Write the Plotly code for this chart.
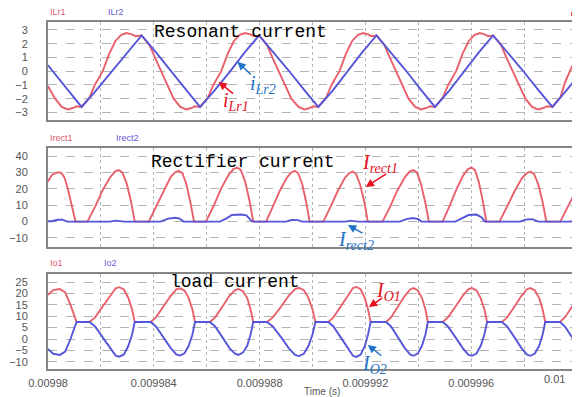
import plotly.graph_objects as go
from plotly.subplots import make_subplots

T0 = 0.00998  # start time (s); time lists below are microseconds after T0

# ---------------- Panel 1: resonant currents ----------------
ILR1_T = [0, 0.27, 0.52, 0.75, 0.94, 1.08, 1.27,
          1.57, 1.77, 2.07, 2.32, 2.55, 2.77, 2.97, 3.17, 3.31, 3.54, 3.84, 4.04, 4.28, 4.52, 4.75, 5.0, 5.23, 5.42, 5.56, 5.75,
          6.05, 6.25, 6.55, 6.8, 7.03, 7.25, 7.45, 7.65, 7.79, 7.98, 8.28, 8.48, 8.72, 8.96, 9.2, 9.47, 9.7, 9.89, 10.03, 10.22,
          10.52, 10.72, 11.02, 11.27, 11.5, 11.72, 11.92, 12.1, 12.23, 12.42, 12.72, 12.92, 13.16, 13.4, 13.63, 13.88, 14.1, 14.29, 14.44, 14.63,
          14.93, 15.13, 15.43, 15.68, 15.91, 16.13, 16.33, 16.51, 16.64, 16.83, 17.13, 17.33, 17.57, 17.81, 18.05, 18.3, 18.53, 18.72, 18.88, 19.07,
          19.37, 19.55, 19.8, 20.0]
ILR1_V = [-1.1, -2.0, -2.6, -2.78, -2.68, -2.55, -2.6,
          -1.9, -1.0, 0.0, 1.3, 2.2, 2.65, 2.78, 2.68, 2.55, 2.6, 1.9, 1.0, 0.0, -1.1, -2.0, -2.6, -2.78, -2.68, -2.55, -2.6,
          -1.9, -1.0, 0.0, 1.3, 2.2, 2.65, 2.78, 2.68, 2.55, 2.6, 1.9, 1.0, 0.0, -1.1, -2.0, -2.6, -2.78, -2.68, -2.55, -2.6,
          -1.9, -1.0, 0.0, 1.3, 2.2, 2.65, 2.78, 2.68, 2.55, 2.6, 1.9, 1.0, 0.0, -1.1, -2.0, -2.6, -2.78, -2.68, -2.55, -2.6,
          -1.9, -1.0, 0.0, 1.3, 2.2, 2.65, 2.78, 2.68, 2.55, 2.6, 1.9, 1.0, 0.0, -1.1, -2.0, -2.6, -2.78, -2.68, -2.55, -2.6,
          -1.9, -0.8, 0.3, 1.0]

ILR2_T = [0, 0.64, 1.27, 1.82, 2.4, 2.97, 3.54, 4.09, 4.65, 5.2, 5.75, 6.3, 6.87, 7.43, 7.98,
          8.54, 9.1, 9.66, 10.22, 10.77, 11.32, 11.87, 12.42, 12.97, 13.53, 14.08, 14.63,
          15.18, 15.73, 16.28, 16.83, 17.39, 17.95, 18.51, 19.07, 19.6, 20.0]
ILR2_V = [0.43, -1.1, -2.6, -1.4, -0.05, 1.35, 2.6, 1.35, 0.05, -1.3, -2.6, -1.4, -0.05, 1.35, 2.6,
          1.35, 0.05, -1.3, -2.6, -1.4, -0.05, 1.35, 2.6, 1.35, 0.05, -1.3, -2.6,
          -1.4, -0.05, 1.35, 2.6, 1.35, 0.05, -1.3, -2.6, -1.4, -0.45]

# ---------------- Panel 2: rectifier currents ----------------
IRECT1_T = [0, 0.15, 0.35, 0.5, 0.62, 0.75, 0.88, 1.04,
            1.49, 1.78, 2.06, 2.35, 2.53, 2.67, 2.81, 2.98, 3.14, 3.28,
            3.81, 4.08, 4.36, 4.63, 4.8, 4.94, 5.08, 5.23, 5.38, 5.52,
            5.97, 6.26, 6.54, 6.83, 7.01, 7.15, 7.29, 7.46, 7.62, 7.76,
            8.25, 8.51, 8.77, 9.04, 9.2, 9.33, 9.46, 9.61, 9.76, 9.89,
            10.41, 10.68, 10.95, 11.22, 11.38, 11.52, 11.65, 11.8, 11.96, 12.09,
            12.65, 12.93, 13.21, 13.49, 13.67, 13.81, 13.95, 14.1, 14.26, 14.4,
            14.92, 15.18, 15.45, 15.71, 15.88, 16.01, 16.14, 16.29, 16.44, 16.57,
            17.07, 17.35, 17.64, 17.92, 18.1, 18.24, 18.38, 18.54, 18.7, 18.84,
            19.37, 19.65, 20.0]
IRECT1_V = [24.5, 28.5, 30, 29.8, 27, 20, 11, 0,
            0, 9, 19, 27, 30.5, 31.5, 30, 23, 12, 0,
            0, 9, 19, 27, 30, 31, 29.5, 23, 12, 0,
            0, 9.5, 20, 28.5, 32, 33, 31.5, 24, 12.5, 0,
            0, 9, 19, 27, 30, 31, 29.5, 23, 12, 0,
            0, 9, 18.5, 26.5, 29.5, 30.5, 29, 22.5, 12, 0,
            0, 9, 19, 27, 30.5, 31.5, 30, 23, 12, 0,
            0, 9.5, 20, 28.5, 32, 33, 31.5, 24, 12.5, 0,
            0, 9, 18.5, 26.5, 29.5, 30.5, 29, 22.5, 12, 0,
            0, 9, 20]

IRECT2_T = [0, 0.15, 0.35, 0.55, 0.72,
            2.35, 2.55, 2.75, 2.9,
            4.25, 4.55, 4.8, 4.98, 5.12,
            6.5, 6.75, 6.95, 7.3, 7.5, 7.7, 7.8,
            9.0, 9.2, 9.45, 9.6,
            11.25, 11.45, 11.7,
            13.3, 13.55, 13.8, 14.0, 14.12,
            15.4, 15.65, 15.9, 16.2, 16.4, 16.5, 16.6,
            17.85, 18.05, 18.3, 18.55,
            19.75, 20.0]
IRECT2_V = [0.2, 0.2, 1.1, 1.2, 0,
            0, 0.6, 0.5, 0,
            0, 1.8, 2.3, 1.8, 0,
            0, 2.0, 4.0, 4.3, 3.8, 0.3, 0,
            0, 1.0, 0.9, 0,
            0, 0.6, 0,
            0, 1.5, 2.2, 1.5, 0,
            0, 2.2, 4.0, 4.3, 2.5, 0.2, 0,
            0, 1.2, 1.5, 0,
            0, 1.0]

# ---------------- Panel 3: load currents ----------------
IO_T = [0, 0.2, 0.45, 0.65, 0.85, 1.08,
        1.57, 1.78, 2.08, 2.34, 2.56, 2.70, 2.87, 3.04, 3.18, 3.28,
        3.88, 4.08, 4.38, 4.64, 4.85, 4.99, 5.16, 5.32, 5.46, 5.56,
        6.12, 6.32, 6.61, 6.86, 7.07, 7.2, 7.37, 7.53, 7.66, 7.76,
        8.28, 8.5, 8.83, 9.1, 9.34, 9.49, 9.67, 9.85, 10.0, 10.11,
        10.6, 10.79, 11.08, 11.32, 11.53, 11.66, 11.82, 11.98, 12.1, 12.2,
        12.78, 12.97, 13.25, 13.49, 13.7, 13.82, 13.98, 14.14, 14.27, 14.36,
        14.92, 15.12, 15.42, 15.68, 15.89, 16.03, 16.2, 16.36, 16.5, 16.6,
        17.16, 17.36, 17.65, 17.9, 18.11, 18.24, 18.41, 18.57, 18.7, 18.8,
        19.36, 19.56, 19.8, 20.0]
IO1_V = [19.4, 21.5, 22, 20.5, 15, 7.5,
         7.5, 9.5, 14.5, 19, 22.3, 22.8, 21.8, 18, 13, 7.5,
         7.5, 9.5, 14.5, 19, 21.8, 22.3, 21.3, 18, 13, 7.5,
         7.5, 9.5, 14.5, 19, 21.5, 22.0, 21.0, 18, 13, 7.5,
         7.5, 9.5, 14.5, 19, 22.0, 22.5, 21.5, 18, 13, 7.5,
         7.5, 9.5, 14.5, 19, 22.4, 22.9, 21.9, 18, 13, 7.5,
         7.5, 9.5, 14.5, 19, 21.9, 22.4, 21.4, 18, 13, 7.5,
         7.5, 9.5, 14.5, 19, 21.9, 22.4, 21.4, 18, 13, 7.5,
         7.5, 9.5, 14.5, 19, 21.9, 22.4, 21.4, 18, 13, 7.5,
         7.5, 9.8, 14, 17.5]
IO2_V = [-4.4, -6.5, -7, -5.5, 0, 7.5,
         7.5, 5.5, 0.5, -4, -7.3, -7.8, -6.8, -3, 2, 7.5,
         7.5, 5.5, 0.5, -4, -6.8, -7.3, -6.3, -3, 2, 7.5,
         7.5, 5.5, 0.5, -4, -6.5, -7.0, -6.0, -3, 2, 7.5,
         7.5, 5.5, 0.5, -4, -7.0, -7.5, -6.5, -3, 2, 7.5,
         7.5, 5.5, 0.5, -4, -7.4, -7.9, -6.9, -3, 2, 7.5,
         7.5, 5.5, 0.5, -4, -6.9, -7.4, -6.4, -3, 2, 7.5,
         7.5, 5.5, 0.5, -4, -6.9, -7.4, -6.4, -3, 2, 7.5,
         7.5, 5.5, 0.5, -4, -6.9, -7.4, -6.4, -3, 2, 7.5,
         7.5, 5.2, 1, -2.5]

X_TICK_US = [0, 4, 8, 12, 16]
X_TICK_LABELS = ["0.00998", "0.009984", "0.009988", "0.009992", "0.009996"]
X_GRID_US = [2, 6, 10, 14, 18]
Y1_TICKS = [-3, -2, -1, 0, 1, 2, 3]
Y2_TICKS = [-10, 0, 10, 20, 30, 40]
Y3_TICKS = [-10, -5, 0, 5, 10, 15, 20, 25]

RED = "#e8606c"
BLUE = "#5656d8"
ANN_RED = "#e8101c"
ANN_BLUE = "#1f74c8"


def sec(us_list):
    return [T0 + u * 1e-6 for u in us_list]


fig = make_subplots(rows=3, cols=1, shared_xaxes=True)

line_w = 1.9
fig.add_trace(go.Scatter(x=sec(ILR1_T), y=ILR1_V, mode="lines", line=dict(color=RED, width=line_w), name="ILr1"), row=1, col=1)
fig.add_trace(go.Scatter(x=sec(ILR2_T), y=ILR2_V, mode="lines", line=dict(color=BLUE, width=line_w), name="ILr2"), row=1, col=1)
fig.add_trace(go.Scatter(x=sec(IRECT1_T), y=IRECT1_V, mode="lines", line=dict(color=RED, width=line_w), name="Irect1"), row=2, col=1)
fig.add_trace(go.Scatter(x=sec(IRECT2_T), y=IRECT2_V, mode="lines", line=dict(color=BLUE, width=line_w), name="Irect2"), row=2, col=1)
fig.add_trace(go.Scatter(x=sec(IO_T), y=IO1_V, mode="lines", line=dict(color=RED, width=line_w), name="Io1"), row=3, col=1)
fig.add_trace(go.Scatter(x=sec(IO_T), y=IO2_V, mode="lines", line=dict(color=BLUE, width=line_w), name="Io2"), row=3, col=1)

tick_font = dict(family="Liberation Sans, Arial, sans-serif", size=11, color="#555555")
GRID_C = "#b4b4b4"

common_x = dict(range=[T0, T0 + 20e-6], tickmode="array", tickvals=sec(X_TICK_US), ticktext=X_TICK_LABELS,
                showgrid=True, gridcolor=GRID_C, griddash="dot", gridwidth=1, zeroline=False,
                minor=dict(tickmode="array", tickvals=sec(X_GRID_US), showgrid=True, gridcolor=GRID_C,
                           griddash="dot", gridwidth=1, ticks=""),
                showline=True, linecolor="#858585", linewidth=2, mirror=True, ticks="",
                tickfont=tick_font, ticklabelstandoff=3)
fig.update_xaxes(**common_x)
fig.update_xaxes(showticklabels=False, row=1, col=1)
fig.update_xaxes(showticklabels=False, row=2, col=1)
fig.update_xaxes(showticklabels=True, row=3, col=1)

common_y = dict(showgrid=True, gridcolor=GRID_C, griddash="dash", gridwidth=1, zeroline=False,
                showline=True, linecolor="#858585", linewidth=2, mirror=True, ticks="",
                tickfont=tick_font, ticklabelstandoff=16, tickmode="array")
fig.update_yaxes(**common_y)
fig.update_yaxes(range=[-3.55, 3.58], tickvals=Y1_TICKS, row=1, col=1)
fig.update_yaxes(range=[-15.5, 44.9], tickvals=Y2_TICKS, row=2, col=1)
fig.update_yaxes(range=[-13.2, 28.6], tickvals=Y3_TICKS, row=3, col=1)

fig.update_layout(
    yaxis=dict(domain=[0.7176, 1.0]),
    yaxis2=dict(domain=[0.3516, 0.6369]),
    yaxis3=dict(domain=[0.0, 0.2738]),
)

anns = []
legend_font = dict(family="Liberation Sans, Arial, sans-serif", size=9)
for txt, x, y, c in [("ILr1", 0.0, 1.029, "#e05a6a"), ("ILr2", 0.110, 1.029, "#6a5ad8"),
                     ("Irect1", 0.0, 0.6657, "#e05a6a"), ("Irect2", 0.125, 0.6657, "#6a5ad8"),
                     ("Io1", 0.0, 0.3055, "#e05a6a"), ("Io2", 0.1026, 0.3055, "#6a5ad8")]:
    anns.append(dict(text=txt, x=x, y=y, xref="paper", yref="paper", xanchor="left", yanchor="middle",
                     showarrow=False, font=dict(color=c, **legend_font)))

title_font = dict(family="Liberation Mono, Courier New, monospace", size=18, color="#000000")
for txt, x, y in [("Resonant current", 0.196, 0.971), ("Rectifier current", 0.190, 0.5965), ("load current", 0.2276, 0.2507)]:
    anns.append(dict(text=txt, x=x, y=y, xref="paper", yref="paper", xanchor="left", yanchor="middle",
                     showarrow=False, font=title_font))

# axis title and last x tick label
anns.append(dict(text="Time (s)", x=0.5187, y=-0.064, xref="paper", yref="paper", xanchor="center", yanchor="middle",
                 showarrow=False, font=dict(family="Liberation Sans, Arial, sans-serif", size=10, color="#555555")))
anns.append(dict(text="0.01", x=0.982, y=-0.029, xref="paper", yref="paper", xanchor="right", yanchor="middle",
                 showarrow=False, font=tick_font))

# arrows (tip in data coordinates, tail offset in px)
arrow_specs = [
    ("x", "y", 6.45, -0.77, 16, 13, ANN_RED),
    ("x", "y", 7.16, 0.68, 15, 14, ANN_BLUE),
    ("x2", "y2", 12.01, 21.1, 22, -14, ANN_RED),
    ("x2", "y2", 11.34, -2.1, 16, 9, ANN_BLUE),
    ("x3", "y3", 12.13, 14.1, 15, -10, ANN_RED),
    ("x3", "y3", 12.09, -2.6, 15, 12, ANN_BLUE),
]
for xr, yr, xu, yv, ax, ay, c in arrow_specs:
    anns.append(dict(x=T0 + xu * 1e-6, y=yv, xref=xr, yref=yr, ax=ax, ay=ay, text="", showarrow=True,
                     arrowhead=2, arrowsize=1.1, arrowwidth=1.5, arrowcolor=c))

label_font = "Liberation Serif, Times New Roman, serif"
label_specs = [
    ("x", "y", 7.09, -2.22, "<i>i</i><sub><i>Lr1</i></sub>", ANN_RED),
    ("x", "y", 8.13, -0.99, "<i>i</i><sub><i>Lr2</i></sub>", ANN_BLUE),
    ("x2", "y2", 12.57, 35.7, "<i>I</i><sub><i>rect1</i></sub>", ANN_RED),
    ("x2", "y2", 11.64, -11.8, "<i>I</i><sub><i>rect2</i></sub>", ANN_BLUE),
    ("x3", "y3", 12.87, 21.1, "<i>I</i><sub><i>O1</i></sub>", ANN_RED),
    ("x3", "y3", 12.35, -11.0, "<i>I</i><sub><i>O2</i></sub>", ANN_BLUE),
]
for xr, yr, xu, yv, txt, c in label_specs:
    anns.append(dict(x=T0 + xu * 1e-6, y=yv, xref=xr, yref=yr, text=txt, showarrow=False,
                     xanchor="center", yanchor="middle", font=dict(family=label_font, size=20, color=c)))

# the page body adds an 8px offset, so the figure is 8px smaller in each direction
fig.update_layout(
    annotations=anns,
    width=572, height=389,
    margin=dict(l=35, r=1, t=14, b=28),
    paper_bgcolor="white", plot_bgcolor="white",
    showlegend=False,
    shapes=[dict(type="rect", xref="paper", yref="paper", x0=0.989, x1=1.002, y0=1.017, y1=1.029,
                 fillcolor="#e8101c", line=dict(width=0))],
)

fig.write_html("out.html")
